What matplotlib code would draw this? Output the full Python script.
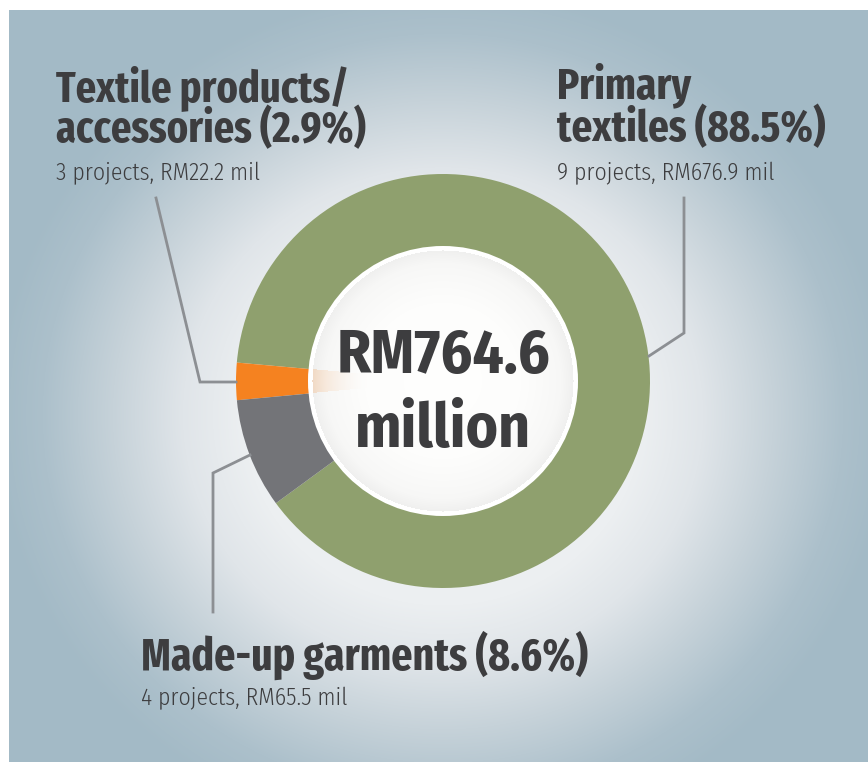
import numpy as np
import matplotlib
matplotlib.use("Agg")
import matplotlib.pyplot as plt
from matplotlib.patches import Circle
from matplotlib.colors import to_rgb

# ---------------- data ----------------
categories = ["Primary textiles", "Textile products/accessories", "Made-up garments"]
values_rm_mil = [676.9, 22.2, 65.5]
percentages = [88.5, 2.9, 8.6]
projects = [9, 3, 4]
total_label = "RM764.6\nmillion"
colors = ["#8fa06e", "#f58220", "#737478"]

W, H = 868, 762
fig = plt.figure(figsize=(W / 100, H / 100), dpi=100)
fig.patch.set_facecolor("white")
ax = fig.add_axes([0, 0, 1, 1])
ax.set_xlim(0, W)
ax.set_ylim(0, H)
ax.axis("off")

def Y(y):  # top-based pixel coordinate -> data coordinate
    return H - y

FONT = ["Fira Sans Condensed", "DejaVu Sans"]
FONT_T = ["Fira Sans Extra Condensed", "Fira Sans Condensed", "DejaVu Sans"]
TXT = "#3d3d3f"
LINE = "#8c8f93"

# ---------------- background panel with radial gradient ----------------
px0, py0 = 9, 10
gx = np.arange(px0, W) + 0.5
gy = np.arange(py0, H) + 0.5
XX, YY = np.meshgrid(gx, gy)
cx_bg, cy_bg = 443, 415
R = np.hypot(XX - cx_bg, (YY - cy_bg) * 1.05)
stops_r = [0, 200, 260, 330, 400, 450, 2000]
stops_c = ["#f4f5f6", "#eceff1", "#e0e5e9", "#c6d2d9", "#acc0cb", "#a3bac6", "#a3bac6"]
img = np.zeros(R.shape + (3,))
for k in range(3):
    img[..., k] = np.interp(R, stops_r, [to_rgb(c)[k] for c in stops_c])
ax.imshow(img, extent=[px0, W, Y(H), Y(py0)], origin="upper", zorder=0,
          interpolation="bilinear", aspect="auto")

# ---------------- donut ----------------
cx, cy = 443, 381
r_out = 207
frac_orange = percentages[1] / 100.0
start = 180 - frac_orange * 360 / 2 - percentages[0] / 100.0 * 360
ax.pie(values_rm_mil, colors=colors, startangle=start, counterclock=True,
       radius=r_out, center=(cx, Y(cy)),
       wedgeprops=dict(width=r_out - 110, edgecolor="none", linewidth=0))
ax.set_xlim(0, W)
ax.set_ylim(0, H)
ax.set_aspect("auto")

# white centre disc with soft gradient and a faint orange glow
r_white = 135
r_in = 131
ax.add_patch(Circle((cx, Y(cy)), r_white, facecolor="white", edgecolor="none", zorder=3))
n = 2 * r_in + 2
xs = np.linspace(-r_in - 1, r_in + 1, n)
XC, YC = np.meshgrid(xs, xs)
RC = np.hypot(XC, YC)
base = np.interp(RC, [0, 80, 118, 131], [1.0, 0.992, 0.97, 0.94])
cimg = np.zeros(RC.shape + (4,))
cimg[..., 0] = base
cimg[..., 1] = base
cimg[..., 2] = base * 0.99 + 0.006
cimg[..., 3] = (RC <= r_in).astype(float)
ang = np.degrees(np.arctan2(-YC, XC)) % 360
half = frac_orange * 360 / 2
in_wedge = np.abs(ang - 180) <= half
glow = np.clip((RC - 75) / (r_in - 75), 0, 1) ** 1.8 * 0.2 * in_wedge
org = np.array(to_rgb(colors[1]))
for k in range(3):
    cimg[..., k] = cimg[..., k] * (1 - glow) + org[k] * glow
ax.imshow(cimg, extent=[cx - r_in - 1, cx + r_in + 1, Y(cy + r_in + 1), Y(cy - r_in - 1)],
          origin="upper", zorder=4, interpolation="bilinear", aspect="auto")

# centre text
lines = total_label.split("\n")
ax.text(cx, Y(373), lines[0], family=FONT, fontweight="bold", fontsize=44,
        color=TXT, ha="center", va="baseline", zorder=6)
ax.text(cx, Y(447), lines[1], family=FONT, fontweight="bold", fontsize=44,
        color=TXT, ha="center", va="baseline", zorder=6)

# ---------------- leader lines ----------------
def leader(pts):
    ax.plot([p[0] for p in pts], [Y(p[1]) for p in pts], color=LINE, lw=2.0,
            solid_joinstyle="miter", zorder=2)

leader([(684, 198), (684, 333), (649, 356)])   # primary textiles
leader([(156, 198), (200, 382), (236, 382)])   # textile products
leader([(213, 612), (213, 473), (250, 455)])   # made-up garments

# ---------------- labels ----------------
def label(x, y_lines, title_lines, sub, size_t=32, size_s=17):
    for yy, t in zip(y_lines[:-1], title_lines):
        ax.text(x, Y(yy), t, family=FONT_T, fontweight="bold", fontsize=size_t,
                color=TXT, ha="left", va="baseline", zorder=6)
    ax.text(x, Y(y_lines[-1]), sub, family=FONT, fontweight=300, fontsize=size_s,
            color=TXT, ha="left", va="baseline", zorder=6)

label(557, [98, 141, 180],
      ["Primary", f"textiles ({percentages[0]}%)"],
      f"{projects[0]} projects, RM{values_rm_mil[0]} mil")
label(56, [101, 142, 180],
      ["Textile products/", f"accessories ({percentages[1]}%)"],
      f"{projects[1]} projects, RM{values_rm_mil[1]} mil", size_t=31.5)
label(141, [670, 705],
      [f"Made-up garments ({percentages[2]}%)"],
      f"{projects[2]} projects, RM{values_rm_mil[2]} mil", size_t=32.5)

fig.savefig("out.png", dpi=100, facecolor="white")
